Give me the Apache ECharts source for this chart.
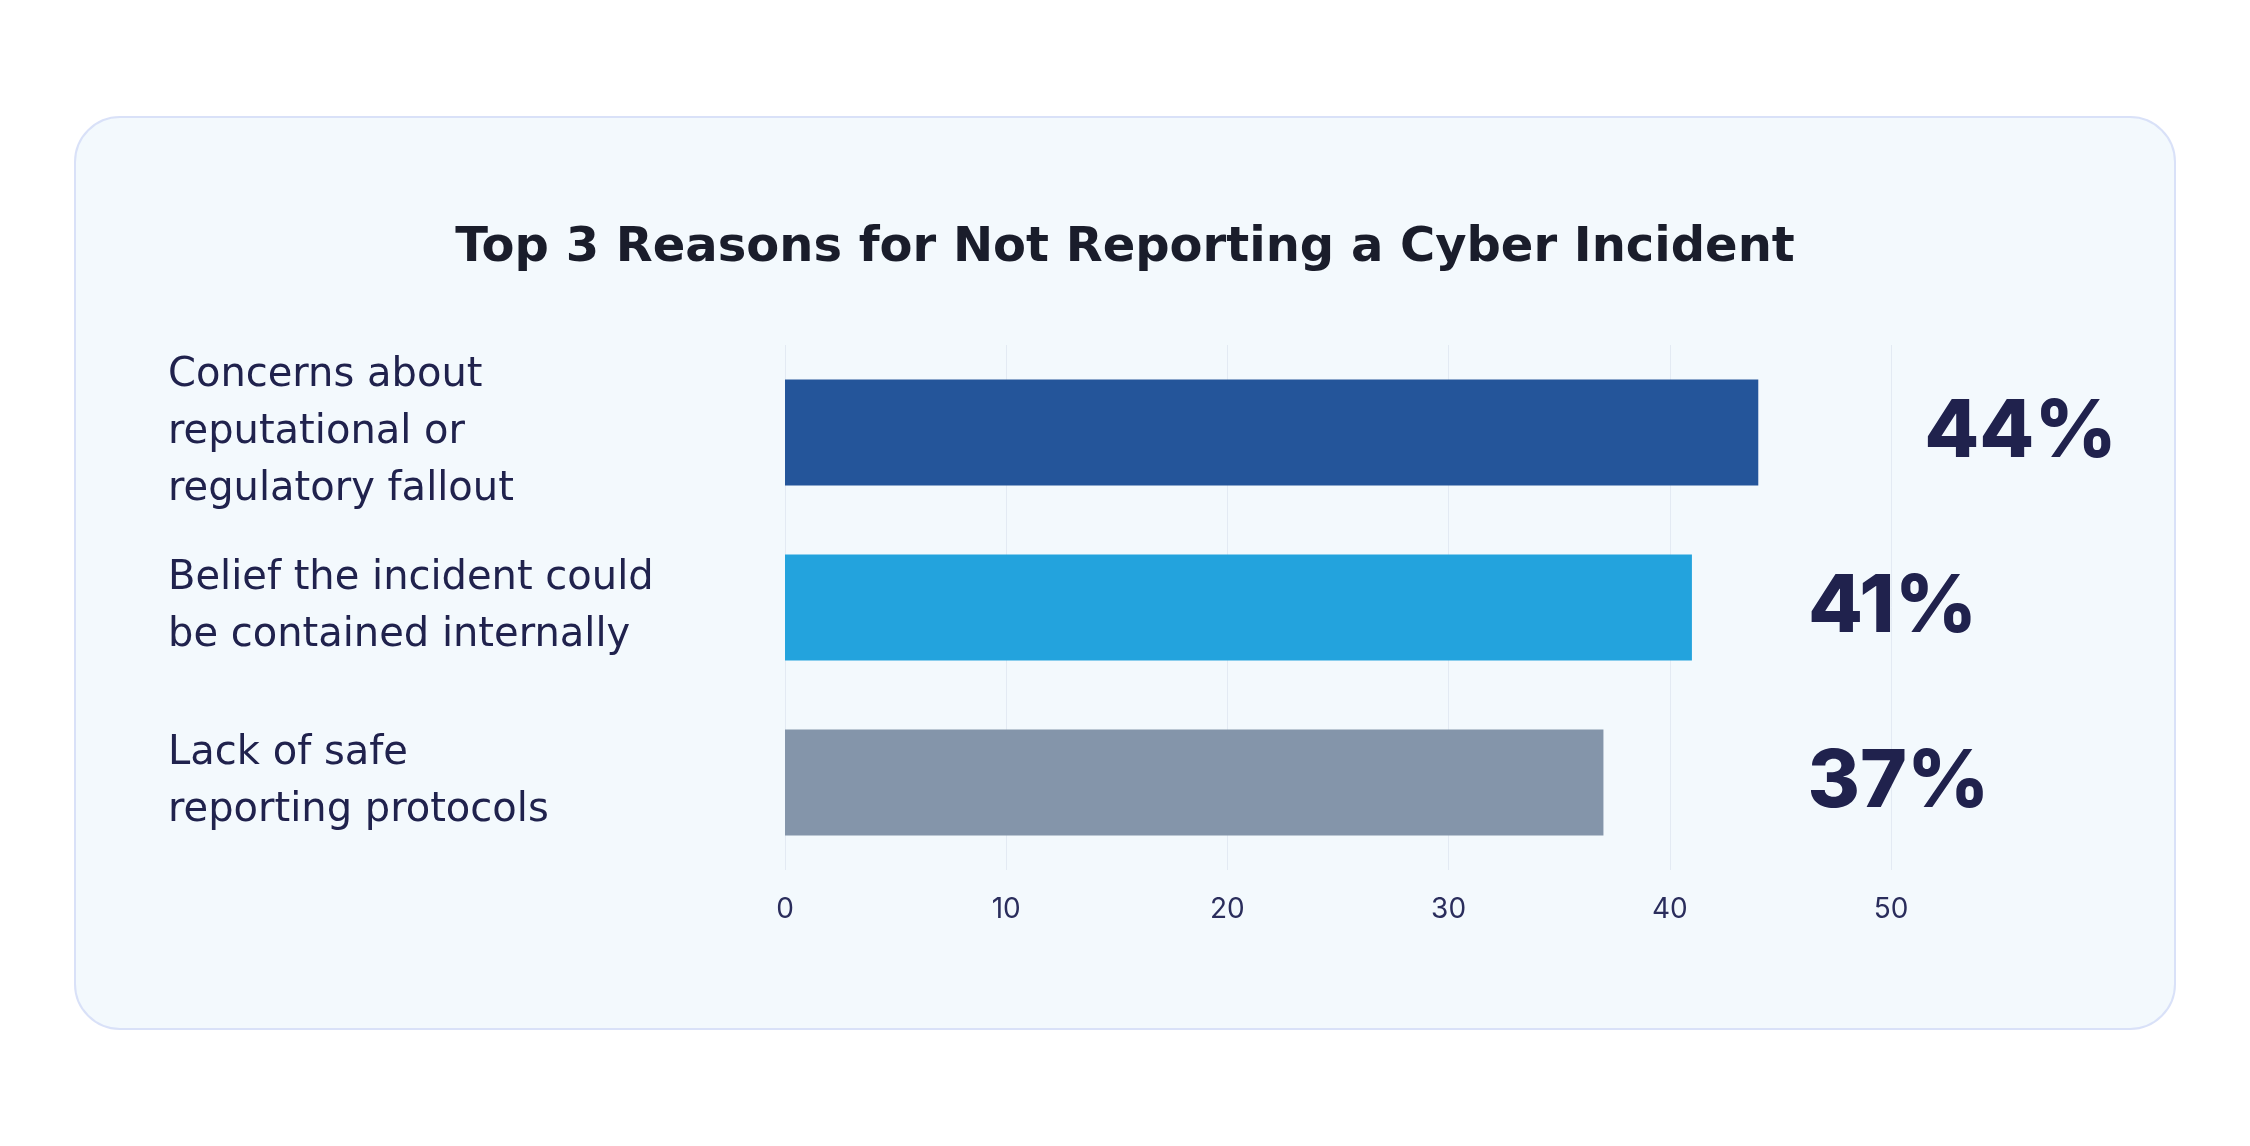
<!DOCTYPE html>
<html>
<head>
<meta charset="utf-8">
<title>Top 3 Reasons for Not Reporting a Cyber Incident</title>
<script src="https://cdn.jsdelivr.net/npm/echarts@6/dist/echarts.min.js"></script>
<style>
  html, body { margin: 0; padding: 0; background: #ffffff; }
  #chart { width: 2250px; height: 1146px; }
</style>
</head>
<body>
<div id="chart"></div>
<script>
// data
var categories = [
  'Concerns about\nreputational or\nregulatory fallout',
  'Belief the incident could\nbe contained internally',
  'Lack of safe\nreporting protocols'
];
var values = [44, 41, 37];
var xTicks = [0, 10, 20, 30, 40, 50];

// styles
var barColors = ['#24559a', '#23a3dd', '#8495aa'];
var labelShift = [166, 116, 204];
var navy = '#20224d';
var font = 'Inter, "Noto Sans", sans-serif';
var wideFont = '"DejaVu Sans", Inter, sans-serif';

var myChart = echarts.init(document.getElementById('chart'));

var option = {
  backgroundColor: '#ffffff',
  graphic: [{
    type: 'rect',
    z: -10,
    shape: { x: 75, y: 117, width: 2100, height: 912, r: 45 },
    style: { fill: '#f3f9fd', stroke: '#d9e1f8', lineWidth: 2 }
  }],
  title: {
    text: 'Top 3 Reasons for Not Reporting a Cyber Incident',
    left: 'center',
    top: 220,
    textStyle: {
      fontFamily: wideFont,
      fontSize: 48,
      fontWeight: 'bold',
      color: '#1a1d2b'
    }
  },
  grid: {
    left: 785,
    right: 359,
    top: 345,
    bottom: 276
  },
  xAxis: {
    type: 'value',
    min: xTicks[0],
    max: xTicks[xTicks.length - 1],
    interval: xTicks[1] - xTicks[0],
    axisLine: { show: false },
    axisTick: { show: false },
    splitLine: { show: true, lineStyle: { color: '#e3eaf3', width: 1 } },
    axisLabel: {
      margin: 26,
      fontFamily: font,
      fontSize: 28,
      color: '#2a2d5c'
    }
  },
  yAxis: {
    type: 'category',
    inverse: true,
    data: categories,
    axisLine: { show: false },
    axisTick: { show: false },
    axisLabel: {
      align: 'left',
      margin: 617,
      fontFamily: wideFont,
      fontSize: 40,
      lineHeight: 57,
      color: navy
    }
  },
  series: [{
    type: 'bar',
    barWidth: 106,
    data: values.map(function (v, i) {
      return {
        value: v,
        itemStyle: { color: barColors[i] },
        label: { offset: [labelShift[i], 0] }
      };
    }),
    label: {
      show: true,
      position: 'right',
      distance: 0,
      formatter: '{c}%',
      fontFamily: font,
      fontSize: 80,
      fontWeight: 800,
      color: navy
    }
  }]
};

myChart.setOption(option);
</script>
</body>
</html>
